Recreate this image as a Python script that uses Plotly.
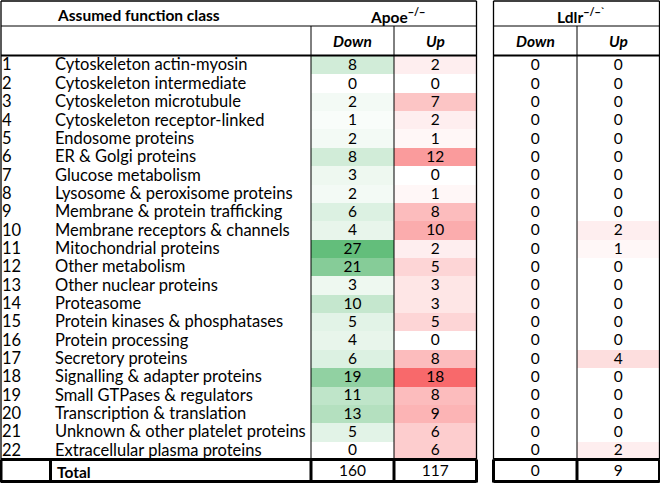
import plotly.graph_objects as go

# ---------------- data ----------------
row_ids = [str(i) for i in range(1, 23)]
categories = [
    "Cytoskeleton actin-myosin", "Cytoskeleton intermediate", "Cytoskeleton microtubule",
    "Cytoskeleton receptor-linked", "Endosome proteins", "ER & Golgi proteins",
    "Glucose metabolism", "Lysosome & peroxisome proteins", "Membrane & protein trafficking",
    "Membrane receptors & channels", "Mitochondrial proteins", "Other metabolism",
    "Other nuclear proteins", "Proteasome", "Protein kinases & phosphatases",
    "Protein processing", "Secretory proteins", "Signalling & adapter proteins",
    "Small GTPases & regulators", "Transcription & translation",
    "Unknown & other platelet proteins", "Extracellular plasma proteins",
]
apoe_down = [8, 0, 2, 1, 2, 8, 3, 2, 6, 4, 27, 21, 3, 10, 5, 4, 6, 19, 11, 13, 5, 0]
apoe_up = [2, 0, 7, 2, 1, 12, 0, 1, 8, 10, 2, 5, 3, 3, 5, 0, 8, 18, 8, 9, 6, 6]
ldlr_down = [0, 0, 0, 0, 0, 0, 0, 0, 0, 0, 0, 0, 0, 0, 0, 0, 0, 0, 0, 0, 0, 0]
ldlr_up = [0, 0, 0, 0, 0, 0, 0, 0, 0, 2, 1, 0, 0, 0, 0, 0, 4, 0, 0, 0, 0, 2]
apoe_totals = [160, 117]
ldlr_totals = [0, 9]
col_labels = ["Down", "Up"]
title_text = "Assumed function class"
total_label = "Total"

# ---------------- layout constants ----------------
W, H = 660, 484
FONT = "Lato"
FS = 15.5
FS_LAB = 16.5
X_L = 1.0
X_NUMDIV = 50.5
X_LABEL = 55
X_AD = 311
X_AU = 394
X_AR = 476.5
X_LL = 493.5
X_LD = 577
X_LR = 659.5
Y_TOP = 1.0
Y_H1 = 26
Y_H2 = 55.5
Y_R0 = 56
Y_R1 = 459.5
Y_BOT = 481.5
TXT_DY = 1.2
n = len(categories)
rh = (Y_R1 - Y_R0) / n
y_edges = [Y_R0 + i * rh for i in range(n + 1)]
y_centers = [Y_R0 + (i + 0.5) * rh for i in range(n)]
y_text = [y + TXT_DY for y in y_centers]

GREEN = [[0, "#FFFFFF"], [1, "#63BE7B"]]
RED = [[0, "#FFFFFF"], [1, "#F8696B"]]
down_max = max(apoe_down)
up_max = max(apoe_up)

fig = go.Figure()


def add_col(vals, x0, x1, scale, zmax):
    fig.add_trace(go.Heatmap(
        z=[[v] for v in vals], x=[x0, x1], y=y_edges,
        colorscale=scale, zmin=0, zmax=zmax, showscale=False,
        hoverinfo="skip",
    ))
    fig.add_trace(go.Scatter(
        x=[(x0 + x1) / 2] * len(vals), y=y_text, text=[str(v) for v in vals],
        mode="text", textposition="middle center",
        textfont=dict(family=FONT, size=FS, color="black"), hoverinfo="skip"))


add_col(apoe_down, X_AD, X_AU, GREEN, down_max)
add_col(apoe_up, X_AU, X_AR, RED, up_max)
add_col(ldlr_down, X_LL, X_LD, GREEN, down_max)
add_col(ldlr_up, X_LD, X_LR, RED, up_max)

# row numbers and labels
fig.add_trace(go.Scatter(x=[X_L + 1] * n, y=y_text, text=row_ids, mode="text",
                         textposition="middle right",
                         textfont=dict(family=FONT, size=FS_LAB, color="black"), hoverinfo="skip"))
fig.add_trace(go.Scatter(x=[X_LABEL] * n, y=y_text, text=categories, mode="text",
                         textposition="middle right",
                         textfont=dict(family=FONT, size=FS_LAB, color="black"), hoverinfo="skip"))

y_tot = (Y_R1 + Y_BOT) / 2 + TXT_DY
fig.add_trace(go.Scatter(
    x=[(X_AD + X_AU) / 2, (X_AU + X_AR) / 2, (X_LL + X_LD) / 2, (X_LD + X_LR) / 2],
    y=[y_tot] * 4, text=[str(v) for v in apoe_totals + ldlr_totals], mode="text",
    textposition="middle center", textfont=dict(family=FONT, size=FS, color="black"),
    hoverinfo="skip"))

ann = []
hdr1 = (Y_TOP + Y_H1) / 2 + 1.5
hdr2 = (Y_H1 + Y_H2) / 2
ann.append(dict(x=X_LABEL, y=hdr1, text="<b>%s</b>" % title_text, xanchor="left"))
ann.append(dict(x=(X_AD + X_AR) / 2 + 4, y=hdr1 + 0.5, text="<b>Apoe<sup>−/−</sup></b>", xanchor="center"))
ann.append(dict(x=(X_LL + X_LR) / 2 + 4, y=hdr1 + 0.5, text="<b>Ldlr<sup>−/−`</sup></b>", xanchor="center"))
for (a, b), lab in zip([(X_AD, X_AU), (X_AU, X_AR), (X_LL, X_LD), (X_LD, X_LR)], col_labels * 2):
    ann.append(dict(x=(a + b) / 2, y=hdr2, text="<b><i>%s</i></b>" % lab, xanchor="center"))
ann.append(dict(x=X_LABEL, y=y_tot, text="<b>%s</b>" % total_label, xanchor="left"))
for a in ann:
    a.update(xref="x", yref="y", yanchor="middle", showarrow=False,
             font=dict(family=FONT, size=FS, color="black"))

shapes = []


def line(x0, y0, x1, y1, w=1):
    shapes.append(dict(type="line", xref="x", yref="y", x0=x0, y0=y0, x1=x1, y1=y1,
                       line=dict(color="black", width=w), layer="above"))


for (xl, xr, xdivs) in [(X_L, X_AR, [X_AD, X_AU]), (X_LL, X_LR, [X_LD])]:
    line(xl, Y_TOP, xr, Y_TOP, 1.3)
    line(xl, Y_TOP, xl, Y_R1, 1.3)
    line(xr, Y_TOP, xr, Y_R1, 1.3)
    line(xl, Y_H1, xr, Y_H1, 1)
    line(xl, Y_H2, xr, Y_H2, 2.2)
    line(xl, Y_R1, xr, Y_R1, 3)
    line(xl, Y_BOT, xr, Y_BOT, 3)
    line(xl, Y_R1, xl, Y_BOT + 1, 3)
    line(xr, Y_R1, xr, Y_BOT + 1, 3)
    for xd in xdivs:
        line(xd, Y_H1, xd, Y_R1, 1)
        line(xd, Y_R1, xd, Y_BOT + 1, 3)
line(X_NUMDIV, Y_R1, X_NUMDIV, Y_BOT + 1, 3)

fig.update_layout(
    width=W, height=H, margin=dict(l=0, r=0, t=0, b=0),
    paper_bgcolor="white", plot_bgcolor="white", showlegend=False,
    xaxis=dict(range=[0, W], visible=False, fixedrange=True),
    yaxis=dict(range=[H, 0], visible=False, fixedrange=True),
    annotations=ann, shapes=shapes,
)
fig.write_html(
    "out.html",
    config={"displayModeBar": False},
    post_script="document.body.style.margin='0';document.body.style.overflow='hidden';",
)
